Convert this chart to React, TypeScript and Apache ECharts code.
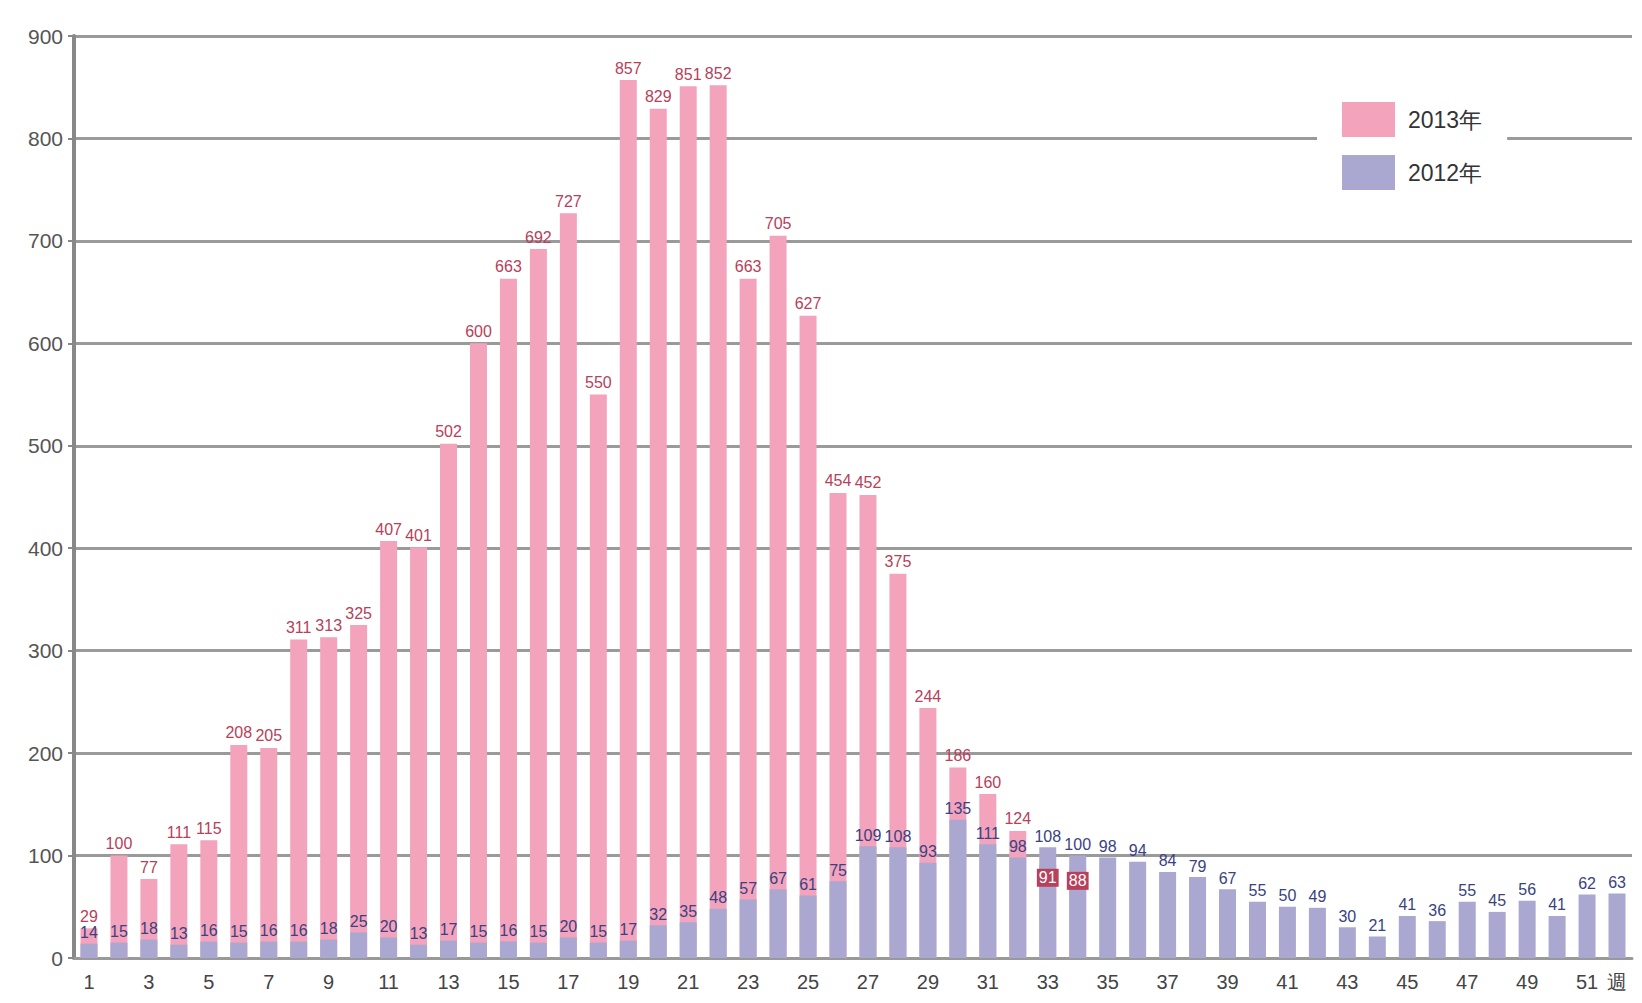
import React, { useEffect, useRef } from "react";
import * as echarts from "echarts";

const weeks: number[] = Array.from({ length: 52 }, (_, i) => i + 1);
const yTicks: number[] = [0, 100, 200, 300, 400, 500, 600, 700, 800, 900];
const weekUnit = "週";
const seriesNames = ["2013年", "2012年"];

const values2013: number[] = [
  29, 100, 77, 111, 115, 208, 205, 311, 313, 325, 407, 401, 502, 600, 663, 692, 727, 550,
  857, 829, 851, 852, 663, 705, 627, 454, 452, 375, 244, 186, 160, 124, 91, 88,
];

const values2012: number[] = [
  14, 15, 18, 13, 16, 15, 16, 16, 18, 25, 20, 13, 17, 15, 16, 15, 20, 15, 17, 32, 35, 48,
  57, 67, 61, 75, 109, 108, 93, 135, 111, 98, 108, 100, 98, 94, 84, 79, 67, 55, 50, 49,
  30, 21, 41, 36, 55, 45, 56, 41, 62, 63,
];

export default function App() {
  const ref = useRef<HTMLDivElement>(null);
  useEffect(() => {
    if (!ref.current) return;
    const chart = echarts.init(ref.current, undefined, { renderer: "svg" });
    const data2013 = values2013.map((v, i) => {
      // where the 2012 bar is taller, the 2013 label sits inside as a small box
      if (values2012[i] > v) {
        return {
          value: v,
          label: {
            position: "insideTop",
            distance: 4,
            color: "#ffffff",
            backgroundColor: "#b8405a",
            padding: [1, 2],
          },
        };
      }
      return v;
    });
    chart.setOption({
      animation: false,
      backgroundColor: "#ffffff",
      textStyle: { fontFamily: "Liberation Sans, Arial, sans-serif" },
      grid: { left: 74, right: 10, top: 36, bottom: 45, containLabel: false },
      legend: {
        data: seriesNames,
        orient: "vertical",
        left: 1317,
        top: 95,
        padding: [7, 25, 7, 25],
        itemWidth: 53,
        itemHeight: 35,
        itemGap: 18,
        backgroundColor: "#ffffff",
        icon: "rect",
        textStyle: { fontSize: 23, color: "#333", padding: [0, 0, 0, 8] },
      },
      xAxis: {
        type: "category",
        data: weeks.map(String),
        axisLine: { lineStyle: { color: "#999", width: 3 } },
        axisTick: { show: false },
        axisLabel: {
          interval: 0,
          fontSize: 20,
          color: "#444",
          margin: 14,
          formatter: (v: string, idx: number) => {
            const w = weeks[idx];
            if (w === 52) return weekUnit;
            return w % 2 === 1 ? String(w) : "";
          },
        },
      },
      yAxis: {
        type: "value",
        min: yTicks[0],
        max: yTicks[yTicks.length - 1],
        interval: 100,
        axisLine: { show: true, lineStyle: { color: "#888", width: 4 } },
        axisTick: { show: true, length: 6, lineStyle: { color: "#888", width: 2 } },
        axisLabel: { fontSize: 21, color: "#555", margin: 11 },
        splitLine: { lineStyle: { color: "#9a9a9a", width: 3 } },
      },
      series: [
        {
          name: seriesNames[0],
          type: "bar",
          data: data2013,
          barWidth: 17,
          barGap: "-100%",
          itemStyle: { color: "#f4a3bd" },
          label: {
            show: true,
            position: "top",
            distance: 4,
            fontSize: 16,
            color: "#b8405a",
          },
          z: 2,
        },
        {
          name: seriesNames[1],
          type: "bar",
          data: values2012,
          barWidth: 17,
          barGap: "-100%",
          itemStyle: { color: "#aaa8d0" },
          label: {
            show: true,
            position: "top",
            distance: 3,
            fontSize: 16,
            color: "#3a4280",
          },
          z: 2,
        },
      ],
    });
    return () => chart.dispose();
  }, []);
  return (
    <div
      ref={ref}
      style={{ position: "fixed", left: 0, top: 0, width: 1642, height: 1003, background: "#fff" }}
    />
  );
}
